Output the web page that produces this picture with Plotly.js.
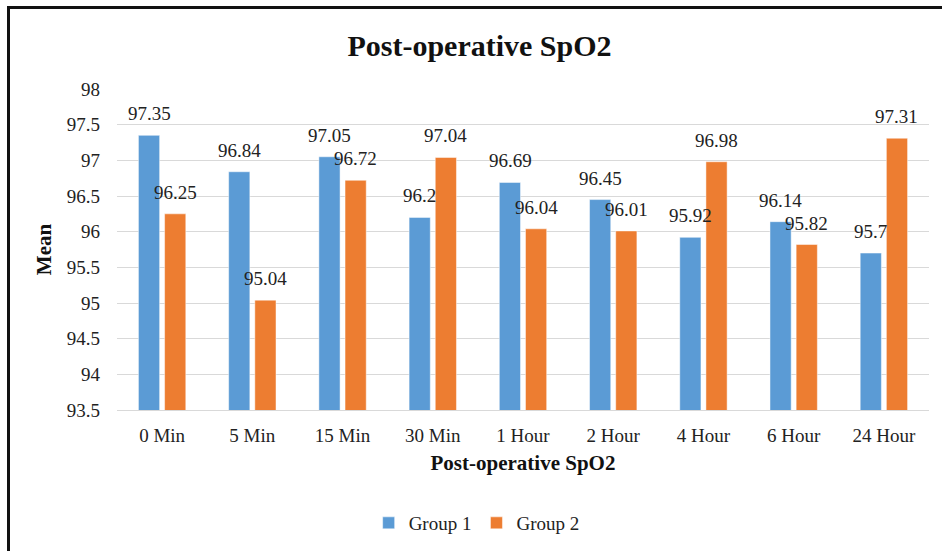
<!DOCTYPE html>
<html>
<head>
<meta charset="utf-8">
<script src="https://cdn.plot.ly/plotly-3.0.1.min.js"></script>
<style>
  html, body { margin: 0; padding: 0; background: #fff; }
  #wrap { position: relative; width: 942px; height: 551px; overflow: hidden; }
  #chart { position: absolute; left: 0; top: 0; width: 942px; height: 551px; }
  #frame { position: absolute; left: 7px; top: 6px; width: 960px; height: 600px;
           border-left: 3px solid #111; border-top: 3px solid #111; pointer-events: none; }
</style>
</head>
<body>
<div id="wrap">
  <div id="chart"></div>
  <div id="frame"></div>
</div>
<script>
const categories = ["0 Min", "5 Min", "15 Min", "30 Min", "1 Hour", "2 Hour", "4 Hour", "6 Hour", "24 Hour"];
const group1 = [97.35, 96.84, 97.05, 96.2, 96.69, 96.45, 95.92, 96.14, 95.7];
const group2 = [96.25, 95.04, 96.72, 97.04, 96.04, 96.01, 96.98, 95.82, 97.31];
const seriesNames = ["Group 1", "Group 2"];
const yTicks = [93.5, 94, 94.5, 95, 95.5, 96, 96.5, 97, 97.5, 98];

const FONT = "Liberation Serif, Times New Roman, serif";
const TXT = "#222";
const colors = ["#5B9BD5", "#ED7D31"];

const traces = [group1, group2].map((vals, i) => ({
  type: "bar",
  name: seriesNames[i],
  x: categories,
  y: vals,
  marker: { color: colors[i], line: { color: "rgba(255,255,255,0.6)", width: 0.8 } },
  hoverinfo: "none"
}));

// data labels: centred above each bar
const annotations = [];
const shifts = [-13, 13];
[group1, group2].forEach((vals, i) => {
  vals.forEach((v, j) => {
    annotations.push({
      x: categories[j], y: v, xref: "x", yref: "y",
      text: String(v), showarrow: false,
      xanchor: "center", yanchor: "bottom",
      xshift: shifts[i], yshift: 9,
      font: { family: FONT, size: 19, color: TXT }
    });
  });
});

const layout = {
  width: 942, height: 551,
  paper_bgcolor: "#fff", plot_bgcolor: "#fff",
  margin: { l: 117, r: 13, t: 89, b: 141 },
  barmode: "group",
  bargap: 0.42,
  bargroupgap: 0.19,
  font: { family: FONT, size: 19, color: TXT },
  title: {
    text: "Post-operative SpO2",
    font: { family: FONT, size: 30, color: "#111", weight: "bold" },
    x: 0.509, xanchor: "center", xref: "container",
    y: 1 - 45 / 551, yanchor: "middle", yref: "container"
  },
  xaxis: {
    type: "category",
    showgrid: false,
    showline: true, linecolor: "#d9d9d9", linewidth: 1,
    ticks: "", ticklabelstandoff: 8,
    tickfont: { family: FONT, size: 19, color: TXT },
    title: { text: "Post-operative SpO2", standoff: 10,
             font: { family: FONT, size: 21, color: "#111", weight: "bold" } },
    automargin: false
  },
  yaxis: {
    range: [93.5, 98],
    tickvals: yTicks,
    ticktext: yTicks.map(String),
    showgrid: true, gridcolor: "#d9d9d9", gridwidth: 1,
    zeroline: false, showline: false,
    ticks: "", ticklabelstandoff: 16,
    tickfont: { family: FONT, size: 19, color: TXT },
    title: { text: "Mean", standoff: 9,
             font: { family: FONT, size: 21, color: "#111", weight: "bold" } },
    automargin: false
  },
  showlegend: true,
  legend: {
    orientation: "h",
    xref: "container", yref: "container",
    x: 0.506, xanchor: "center",
    y: 1 - 523 / 551, yanchor: "middle",
    font: { family: FONT, size: 19, color: TXT },
    itemwidth: 30,
    traceorder: "normal"
  },
  annotations: annotations
};

Plotly.newPlot("chart", traces, layout, { displayModeBar: false, staticPlot: true });
</script>
</body>
</html>
